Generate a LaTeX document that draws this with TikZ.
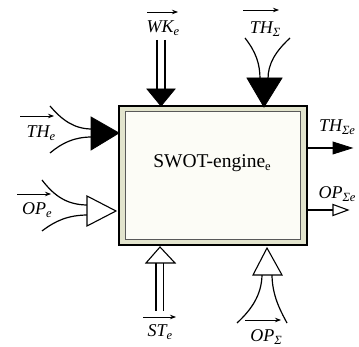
\documentclass[tikz,border=0pt]{standalone}
\usepackage{fontspec}
\setmainfont{Liberation Serif}
\usetikzlibrary{arrows.meta}
\definecolor{bandc}{RGB}{226,228,205}
\definecolor{innerc}{RGB}{252,252,246}
\newcommand{\lsub}[1]{\raisebox{-3.5pt}{\fontsize{12.5}{12.5}\selectfont #1}}
\tikzset{
  lbl/.style={inner sep=0pt, font=\fontsize{18}{18}\selectfont\itshape},
  over/.style={line width=0.8pt, -{Stealth[length=6pt,width=4.5pt]}},
  stem/.style={line width=1.1pt},
  flow/.style={line width=1.2pt},
  solidhead/.style={fill=black, draw=black, line width=0.8pt},
  openhead/.style={fill=white, draw=black, line width=1.1pt},
}
\begin{document}
\begin{tikzpicture}[x=1pt,y=-1pt]
\useasboundingbox (0,0) rectangle (359,347);
% box
\filldraw[fill=bandc, draw=black, line width=1.6pt] (119,106) rectangle (307,245);
\filldraw[fill=innerc, draw=black!65, line width=0.8pt] (125.5,111.5) rectangle (300.5,239.5);
\node[inner sep=0pt, font=\fontsize{19.5}{19.5}\selectfont] (eng) at (212,163) {SWOT-engine\lsub{e}};

% WK_e (top left): double stem, solid head
\draw[stem] (157,40) -- (157,90);
\draw[stem] (165,40) -- (165,90);
\filldraw[solidhead] (147,89) -- (175,89) -- (161,106) -- cycle;
\node[lbl] (wk) at (163,28) {WK\lsub{e}};
\coordinate (wka) at (147,12); \coordinate (wkb) at (178,12);
\draw[over] (wka) -- (wkb);

% TH_Sigma (top right): converging curves, solid head
\draw[flow] (245,38) .. controls (256,52) and (260,64) .. (260,79);
\draw[flow] (290,38) .. controls (275,52) and (268,64) .. (268,79);
\filldraw[solidhead] (247,78) -- (282,78) -- (264,107) -- cycle;
\node[lbl] (ths) at (265,29) {TH\lsub{Σ}};
\coordinate (thsa) at (243,10); \coordinate (thsb) at (279,10);
\draw[over] (thsa) -- (thsb);

% TH_e (left top): converging curves, solid head
\draw[flow] (50,106) .. controls (62,120) and (74,129) .. (92,129);
\draw[flow] (50,153) .. controls (62,143) and (74,137) .. (92,137);
\filldraw[solidhead] (91,117) -- (91,150) -- (119,133) -- cycle;
\node[lbl] (the) at (41,133) {TH\lsub{e}};
\coordinate (thea) at (20,116); \coordinate (theb) at (54,116);
\draw[over] (thea) -- (theb);

% OP_e (left bottom): converging curves, open head
\draw[flow] (42,180) .. controls (55,197) and (68,205) .. (88,205);
\draw[flow] (42,231) .. controls (55,221) and (68,215) .. (88,215);
\filldraw[openhead] (87,196) -- (87,226) -- (116,211) -- cycle;
\node[lbl] (ope) at (37,210) {OP\lsub{e}};
\coordinate (opea) at (17,194); \coordinate (opeb) at (51,194);
\draw[over] (opea) -- (opeb);

% ST_e (bottom left): double stem, open head
\draw[stem] (156,262) -- (156,311);
\draw[stem] (163.5,262) -- (163.5,311);
\filldraw[openhead] (146,263) -- (175,263) -- (160,247) -- cycle;
\node[lbl] (ste) at (160,332) {ST\lsub{e}};
\coordinate (stea) at (143,317); \coordinate (steb) at (176,317);
\draw[over] (stea) -- (steb);

% OP_Sigma (bottom right): diverging curves, open head
\draw[flow] (262,274) .. controls (262,295) and (251,310) .. (237,323);
\draw[flow] (272,274) .. controls (272,295) and (280,310) .. (287,323);
\filldraw[openhead] (253,275) -- (282,275) -- (267,248) -- cycle;
\node[lbl] (ops) at (266,337) {OP\lsub{Σ}};
\coordinate (opsa) at (245,320); \coordinate (opsb) at (281,320);
\draw[over] (opsa) -- (opsb);

% outputs (right)
\draw[flow] (307,148) -- (334,148);
\filldraw[solidhead] (333,142) -- (333,154) -- (352,148) -- cycle;
\node[lbl] (thse) at (337,127) {TH\lsub{Σe}};
\draw[flow] (307,210) -- (334,210);
\filldraw[openhead] (333,204.5) -- (333,215.5) -- (348,210) -- cycle;
\node[lbl] (opse) at (337,194) {OP\lsub{Σe}};
\end{tikzpicture}
\end{document}
